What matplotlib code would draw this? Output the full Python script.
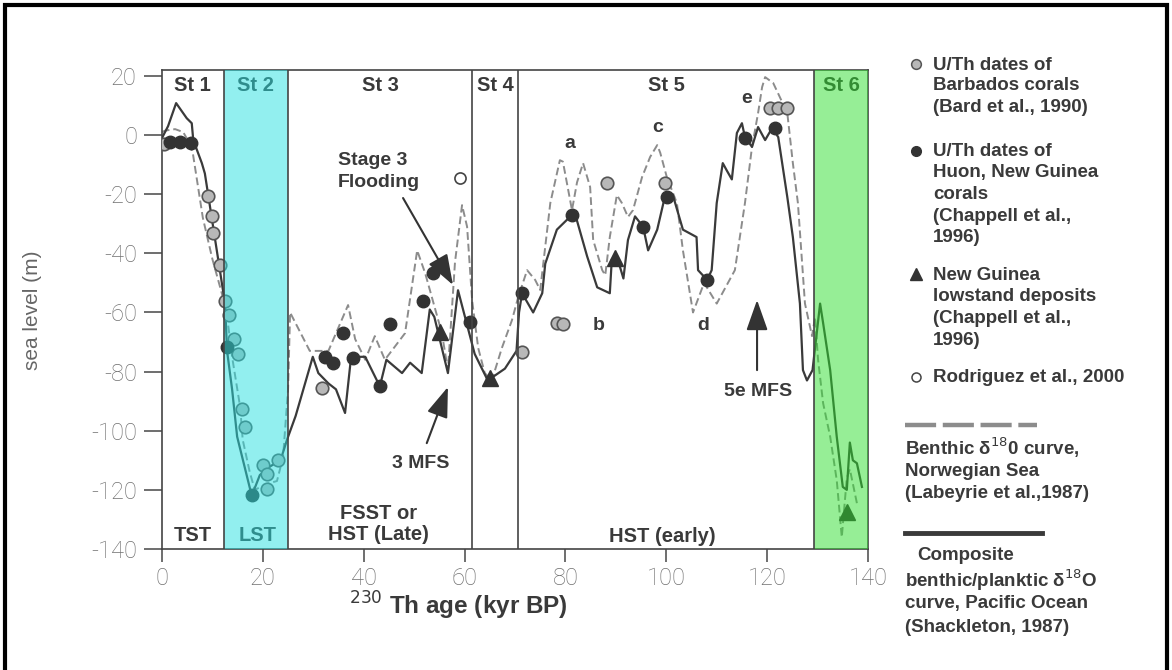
import matplotlib
matplotlib.use("Agg")
import matplotlib.pyplot as plt
from matplotlib.lines import Line2D
from matplotlib.patches import Rectangle

# ---------------- data ----------------
shackleton_curve = [(0, -1), (1.2, 3), (2.8, 10.8), (4.9, 5.7), (5.9, 4), (6.2, -1.7), (7.9, -9.5),
                    (8.5, -13), (12.5, -57), (12.9, -73), (13.9, -86), (14.9, -102), (17.8, -122),
                    (19.4, -115), (21.5, -112), (23.5, -110), (24.8, -103), (26.5, -95), (29.9, -75),
                    (31.0, -80.5), (33.0, -84), (34.5, -86), (36.3, -94), (37.5, -75), (40.3, -75),
                    (43.2, -85), (44.5, -76), (47.6, -80.5), (49.2, -77), (51.5, -80.5), (53.1, -59),
                    (54.0, -61.5), (56.7, -80.5), (58.7, -52.5), (62.0, -74), (64.6, -83), (68.0, -79),
                    (70.3, -73), (70.8, -60), (71.4, -53.5), (73.6, -60), (75.4, -53.5), (76.0, -43.5),
                    (78.3, -32), (81.3, -27), (82.3, -29), (84.3, -41), (86.3, -51.5), (88.8, -53.5),
                    (89.2, -42), (90.8, -44.5), (91.5, -48.5), (92.4, -35.5), (93.8, -27.5), (95.4, -31),
                    (96.4, -39), (98.2, -32), (99.7, -21), (101.3, -20.3), (103.3, -32), (106.0, -34.5),
                    (106.3, -45.7), (108.1, -49), (109.0, -45.7), (110.0, -23), (111.2, -9.5), (112.0, -12),
                    (113.0, -15), (114.0, 0.7), (115.0, 4), (115.6, -0.7), (117.0, -4), (118.2, 2.7),
                    (119.6, -1.7), (121.0, 2.4), (122.2, -0.7), (124.0, -21), (125.1, -34.5), (126.5, -57),
                    (127.1, -79.5), (127.9, -83), (129.0, -79.5), (130.5, -57), (131.1, -63.6),
                    (132.5, -79.5), (133.8, -102), (135.0, -119), (135.8, -120), (136.4, -104),
                    (137.0, -110), (137.8, -111), (138.8, -119)]

labeyrie_curve = [(0, 1), (0.6, 1.5), (2.6, 2), (4.2, 1), (5.2, -2), (6.1, -6), (8.1, -28), (10, -42),
                  (12.1, -55), (13.1, -64), (13.9, -75), (15.5, -92), (16.0, -103), (17.4, -114),
                  (18.4, -120), (20.8, -118), (22.8, -117), (24.0, -109), (25.0, -86), (25.4, -60),
                  (29.3, -73), (33.0, -73), (36.9, -57.5), (38.3, -69), (40.3, -76), (42.2, -68),
                  (44.2, -76), (48.2, -67), (50.6, -39), (52.2, -46.8), (55.5, -67), (56.7, -79.5),
                  (58.1, -43), (59.5, -23.7), (60.5, -31), (61.5, -56), (62.7, -72), (64.0, -80.5),
                  (65.4, -83), (67.4, -72), (69.4, -62.6), (70.6, -55), (72.4, -45.7), (74, -49),
                  (75, -52.4), (77, -23), (78.9, -8.5), (79.5, -9), (81.3, -25.4), (82.3, -16),
                  (83.5, -9.5), (84.9, -17.6), (85.5, -35.5), (87.3, -45.7), (87.9, -47.4), (88.8, -34.5),
                  (90.2, -20.3), (91.2, -23), (92.4, -27.7), (93.4, -25.4), (95.2, -14.2), (96.8, -7.4),
                  (98.2, -3.4), (98.8, -6), (100.1, -14.2), (102.1, -23), (103.3, -39), (105.3, -60),
                  (107.5, -50), (110, -57), (113.6, -45.7), (115.6, -23), (117, -4), (118.2, 7.4),
                  (119, 16.2), (119.6, 19.6), (121.2, 17.6), (122.5, 12.9), (124, 7.4), (125.1, -9.5),
                  (126.1, -23), (127.5, -57), (128.9, -68), (129.5, -61.6), (130.1, -76), (131.1, -90.7),
                  (132.5, -102), (133.8, -116.7), (134.8, -136), (135.8, -116), (136.4, -113),
                  (137.8, -124.5)]

barbados_dates = [(0.3, -3), (9.1, -20.6), (9.9, -27.4), (10.1, -33), (11.5, -44), (12.5, -56),
                  (13.3, -61), (14.3, -69), (15.0, -74), (15.9, -92.7), (16.5, -98.8), (20.0, -111.6),
                  (20.8, -114.7), (23.0, -110), (20.8, -119.8), (31.7, -85.6), (71.4, -73.4),
                  (78.3, -63.6), (79.5, -64), (88.2, -16.2), (99.7, -16.2), (120.6, 9.1),
                  (122.2, 9.1), (123.9, 9.1)]
huon_dates = [(1.5, -2.5), (3.5, -2.5), (5.7, -2.7), (12.9, -71.7), (17.8, -121.8), (32.3, -75),
              (33.9, -77), (35.9, -67), (37.9, -75.5), (43.2, -85), (45.2, -64), (51.8, -56),
              (53.7, -46.8), (61.1, -63.3), (71.4, -53.5), (81.3, -27), (95.4, -31), (100.1, -21),
              (108.1, -49), (115.6, -1), (121.6, 2.4)]
lowstand_deposits = [(55.1, -66.6), (65.0, -82.3), (89.8, -41.6), (135.8, -127.5)]
rodriguez_dates = [(59.1, -14.5)]

stage_bounds = [0, 12.2, 25.0, 61.5, 70.6, 129.3, 140]
stage_names = ["St 1", "St 2", "St 3", "St 4", "St 5", "St 6"]
systems_tracts = ["TST", "LST", "FSST or\nHST (Late)", "", "HST (early)", ""]
xticks = [0, 20, 40, 60, 80, 100, 120, 140]
yticks = [-140, -120, -100, -80, -60, -40, -20, 0, 20]

# ---------------- figure ----------------
W, H = 1172, 670
def fx(px): return px / W
def fy(py): return 1 - py / H

BOLD = ["Liberation Sans", "DejaVu Sans"]
LIGHT = ["Roboto", "Liberation Sans", "DejaVu Sans"]
TXT = "#3a3a3a"

fig = plt.figure(figsize=(W / 100, H / 100), dpi=100)
fig.patch.set_facecolor("white")
ax = fig.add_axes([fx(162), fy(549), (868 - 162) / W, (549 - 70) / H])
ax.set_xlim(0, 140)
ax.set_ylim(-140, 22)

# curves
sx, sy = zip(*shackleton_curve)
lx, ly = zip(*labeyrie_curve)
ax.plot(lx, ly, color="#8c8c8c", lw=1.4, dashes=(4, 2), zorder=2)
ax.plot(sx, sy, color="#3a3a3a", lw=1.6, zorder=3)

# markers
bx, by = zip(*barbados_dates)
ax.plot(bx, by, "o", ms=9, mfc="#b8b8b8", mec="#555555", mew=1.2, zorder=4, ls="none")
hx, hy = zip(*huon_dates)
ax.plot(hx, hy, "o", ms=9, mfc="#333333", mec="#333333", zorder=4, ls="none")
tx, ty = zip(*lowstand_deposits)
ax.plot(tx, ty, "^", ms=11, mfc="#333333", mec="#333333", zorder=4, ls="none")
rx, ry = zip(*rodriguez_dates)
ax.plot(rx, ry, "o", ms=8, mfc="white", mec="#444444", mew=1.2, zorder=4, ls="none")

# stage bands (overlay, tinting what lies beneath)
ax.axvspan(stage_bounds[1], stage_bounds[2], color=(0.15, 0.88, 0.88), alpha=0.5, lw=0, zorder=5)
ax.axvspan(stage_bounds[5], stage_bounds[6], color=(0.18, 0.87, 0.18), alpha=0.5, lw=0, zorder=5)
for b in stage_bounds[1:-1]:
    ax.axvline(b, color="#444444", lw=1.2, zorder=6)

# stage labels
for i, name in enumerate(stage_names):
    xc = (stage_bounds[i] + stage_bounds[i + 1]) / 2
    ax.text(xc, 16.9, name, ha="center", va="center", fontsize=14.5, fontweight="bold",
            color=TXT, family=BOLD, zorder=4.5)
ax.text(6.1, -135.3, systems_tracts[0], ha="center", va="center", fontsize=14.5,
        fontweight="bold", color=TXT, family=BOLD, zorder=4.5)
ax.text(19.0, -135.3, systems_tracts[1], ha="center", va="center", fontsize=14.5,
        fontweight="bold", color=TXT, family=BOLD, zorder=4.5)
ax.text(43.0, -131.5, systems_tracts[2], ha="center", va="center", fontsize=14.5,
        fontweight="bold", color=TXT, family=BOLD, zorder=4.5, linespacing=1.1)
ax.text(99.3, -135.8, systems_tracts[4], ha="center", va="center", fontsize=14.5,
        fontweight="bold", color=TXT, family=BOLD, zorder=4.5)

# annotations
arw = dict(arrowstyle="-|>,head_length=0.85,head_width=0.3", color="#333333", lw=1.5,
           mutation_scale=22, shrinkA=0, shrinkB=0)
ax.annotate("", xy=(57.7, -50.7), xytext=(47.8, -21.3), arrowprops=arw, zorder=4)
ax.annotate("", xy=(56.7, -85.2), xytext=(52.5, -104.2), arrowprops=arw, zorder=4)
ax.annotate("", xy=(118.0, -55.8), xytext=(118.0, -79.5), arrowprops=arw, zorder=4)
ax.text(34.9, -8.5, "Stage 3", ha="left", va="center", fontsize=14, fontweight="bold",
        color=TXT, family=BOLD)
ax.text(34.9, -15.9, "Flooding", ha="left", va="center", fontsize=14, fontweight="bold",
        color=TXT, family=BOLD)
ax.text(51.2, -111, "3 MFS", ha="center", va="center", fontsize=14, fontweight="bold",
        color=TXT, family=BOLD)
ax.text(118.2, -86.9, "5e MFS", ha="center", va="center", fontsize=14, fontweight="bold",
        color=TXT, family=BOLD)
for lab, (x, y) in zip(["a", "b", "c", "d", "e"],
                       [(80.9, -2.7), (86.5, -64.3), (98.2, 2.4), (107.3, -64.3), (116.0, 12.5)]):
    ax.text(x, y, lab, ha="center", va="center", fontsize=14, fontweight="bold",
            color=TXT, family=BOLD)

# axes styling
for s in ax.spines.values():
    s.set_color("#444444")
    s.set_linewidth(1.2)
ax.set_xticks(xticks)
ax.set_yticks(yticks)
ax.set_xticklabels([str(v) for v in xticks], family=LIGHT, fontweight="light")
ax.set_yticklabels([str(v) for v in yticks], family=LIGHT, fontweight="light")
ax.tick_params(axis="y", length=13, width=1.2, color="#555555", labelsize=17,
               labelcolor="#707070", pad=5, direction="out")
ax.tick_params(axis="x", length=9, width=1.2, color="#555555", labelsize=17,
               labelcolor="#707070", pad=4, direction="out")

fig.text(fx(32), fy(310), "sea level (m)", rotation=90, ha="center", va="center",
         fontsize=15, color="#666666", family=["Liberation Sans", "DejaVu Sans"])
fig.text(fx(458), fy(606), r"$^{230}$ Th age (kyr BP)", ha="center", va="center",
         fontsize=17.5, fontweight="bold", color=TXT, family=BOLD)

# legend (outside axes)
LFS = 13.5
def ltext(px, py, s):
    fig.text(fx(px), fy(py), s, ha="left", va="center", fontsize=LFS, fontweight="bold",
             color=TXT, family=BOLD)

fig.add_artist(Line2D([fx(916)], [fy(64)], marker="o", ms=7, mfc="#b8b8b8", mec="#555555",
                      mew=1.1, transform=fig.transFigure))
for i, s in enumerate(["U/Th dates of", "Barbados corals", "(Bard et al., 1990)"]):
    ltext(933, 65 + 21 * i, s)
fig.add_artist(Line2D([fx(916)], [fy(151)], marker="o", ms=7, mfc="#333333", mec="#333333",
                      transform=fig.transFigure))
for i, s in enumerate(["U/Th dates of", "Huon, New Guinea", "corals", "(Chappell et al.,", "1996)"]):
    ltext(933, 151 + 21.7 * i, s)
fig.add_artist(Line2D([fx(916)], [fy(274)], marker="^", ms=9, mfc="#333333", mec="#333333",
                      transform=fig.transFigure))
for i, s in enumerate(["New Guinea", "lowstand deposits", "(Chappell et al.,", "1996)"]):
    ltext(933, 275 + 21.7 * i, s)
fig.add_artist(Line2D([fx(916)], [fy(377)], marker="o", ms=6.5, mfc="white", mec="#444444",
                      mew=1.1, transform=fig.transFigure))
ltext(933, 377, "Rodriguez et al., 2000")

fig.add_artist(Line2D([fx(905), fx(1037)], [fy(425), fy(425)], color="#8c8c8c", lw=3.2,
                      dashes=(7, 1.5), transform=fig.transFigure))
for i, s in enumerate(["Benthic δ$^{18}$0 curve,", "Norwegian Sea", "(Labeyrie et al.,1987)"]):
    ltext(905, 448 + 23 * i, s)
fig.add_artist(Line2D([fx(905), fx(1042)], [fy(533), fy(533)], color="#3a3a3a", lw=3.5,
                      transform=fig.transFigure))
ltext(917, 555, "Composite")
for i, s in enumerate(["benthic/planktic δ$^{18}$O", "curve, Pacific Ocean", "(Shackleton, 1987)"]):
    ltext(905, 580 + 23.5 * i, s)

# outer black frame (bottom edge runs off the canvas)
fig.add_artist(Rectangle((fx(5), -0.05), fx(1167) - fx(5), fy(5) + 0.05, fill=False,
                         ec="black", lw=3, transform=fig.transFigure))

fig.savefig("out.png", dpi=100)
